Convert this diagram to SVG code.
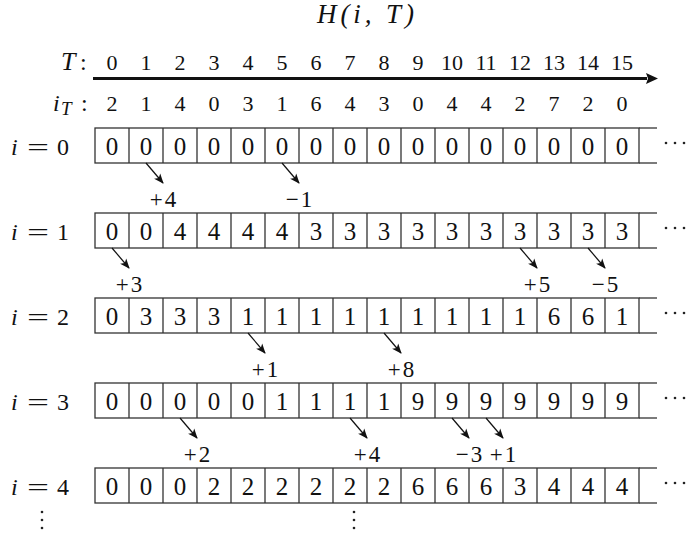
<svg xmlns="http://www.w3.org/2000/svg" width="691" height="537" viewBox="0 0 691 537">
  <style>
    text { font-family: "Liberation Serif", "Times New Roman", serif; fill: #111; }
    .title { font-size: 27px; font-style: italic; }
    .hdr { font-size: 22px; text-anchor: middle; }
    .lab { font-size: 24px; }
    .it { font-style: italic; }
    .cellv { font-size: 25px; text-anchor: middle; }
    .delta { font-size: 23px; text-anchor: middle; letter-spacing: 2px; }
    .cell { fill: #fff; stroke: #333; stroke-width: 1.3; }
    .rail { stroke: #333; stroke-width: 1.3; }
    .conn { stroke: #111; stroke-width: 1.2; fill: none; marker-end: url(#tip); }
    .dot { fill: #222; }
  </style>
  <defs>
    <marker id="tip" markerUnits="userSpaceOnUse" markerWidth="10" markerHeight="10" viewBox="0 0 10 10" refX="9" refY="5" orient="auto">
      <path d="M0,1 L10,5 L0,9 L2.5,5 Z" fill="#111"/>
    </marker>
    <marker id="bigtip" markerUnits="userSpaceOnUse" markerWidth="12" markerHeight="12" viewBox="0 0 12 12" refX="1" refY="6" orient="auto">
      <path d="M0,0.5 L12,6 L0,11.5 L2,6 Z" fill="#111"/>
    </marker>
  </defs>

  <!-- title -->
  <g id="title">
    <text class="title" x="317" y="23" textLength="97" lengthAdjust="spacing">H(i, T)</text>
  </g>

  <!-- time axis and query sequence -->
  <g id="axis">
    <text class="lab" x="61" y="70"><tspan class="it" font-size="26">T</tspan><tspan x="80">:</tspan></text>
    <line x1="93" y1="78.5" x2="647" y2="78.5" stroke="#111" stroke-width="3" marker-end="url(#bigtip)"/>
    <g class="hdr">
      <text x="112" y="70">0</text><text x="146" y="70">1</text><text x="180" y="70">2</text><text x="214" y="70">3</text>
      <text x="248" y="70">4</text><text x="282" y="70">5</text><text x="316" y="70">6</text><text x="350" y="70">7</text>
      <text x="384" y="70">8</text><text x="418" y="70">9</text><text x="452" y="70">10</text><text x="486" y="70">11</text>
      <text x="520" y="70">12</text><text x="554" y="70">13</text><text x="588" y="70">14</text><text x="622" y="70">15</text>
    </g>
    <text class="lab" x="53" y="111"><tspan class="it">i</tspan><tspan class="it" font-size="19" x="61" dy="4">T</tspan><tspan x="81" dy="-4">:</tspan></text>
    <g class="hdr">
      <text x="112" y="111">2</text><text x="146" y="111">1</text><text x="180" y="111">4</text><text x="214" y="111">0</text>
      <text x="248" y="111">3</text><text x="282" y="111">1</text><text x="316" y="111">6</text><text x="350" y="111">4</text>
      <text x="384" y="111">3</text><text x="418" y="111">0</text><text x="452" y="111">4</text><text x="486" y="111">4</text>
      <text x="520" y="111">2</text><text x="554" y="111">7</text><text x="588" y="111">2</text><text x="622" y="111">0</text>
    </g>
  </g>

  <!-- row i = 0 -->
  <g id="row-0">
    <text class="lab it" x="11" y="155">i</text>
    <text class="lab" x="27" y="155" textLength="22" lengthAdjust="spacingAndGlyphs">=</text>
    <text class="lab" x="57" y="155">0</text>
    <rect class="cell" x="95" y="128" width="544" height="35"/>
    <line class="rail" x1="639" y1="128" x2="657" y2="128"/><line class="rail" x1="639" y1="163" x2="657" y2="163"/>
    <path class="rail" d="M129,128V163M163,128V163M197,128V163M231,128V163M265,128V163M299,128V163M333,128V163M367,128V163M401,128V163M435,128V163M469,128V163M503,128V163M537,128V163M571,128V163M605,128V163"/>
    <g class="cellv">
      <text x="112" y="154.5">0</text><text x="146" y="154.5">0</text><text x="180" y="154.5">0</text><text x="214" y="154.5">0</text>
      <text x="248" y="154.5">0</text><text x="282" y="154.5">0</text><text x="316" y="154.5">0</text><text x="350" y="154.5">0</text>
      <text x="384" y="154.5">0</text><text x="418" y="154.5">0</text><text x="452" y="154.5">0</text><text x="486" y="154.5">0</text>
      <text x="520" y="154.5">0</text><text x="554" y="154.5">0</text><text x="588" y="154.5">0</text><text x="622" y="154.5">0</text>
    </g>
    <circle class="dot" cx="666" cy="143" r="1.3"/><circle class="dot" cx="675" cy="143" r="1.3"/><circle class="dot" cx="684" cy="143" r="1.3"/>
  </g>

  <!-- row i = 1 -->
  <g id="row-1">
    <text class="lab it" x="11" y="240">i</text>
    <text class="lab" x="27" y="240" textLength="22" lengthAdjust="spacingAndGlyphs">=</text>
    <text class="lab" x="57" y="240">1</text>
    <rect class="cell" x="95" y="213" width="544" height="35"/>
    <line class="rail" x1="639" y1="213" x2="657" y2="213"/><line class="rail" x1="639" y1="248" x2="657" y2="248"/>
    <path class="rail" d="M129,213V248M163,213V248M197,213V248M231,213V248M265,213V248M299,213V248M333,213V248M367,213V248M401,213V248M435,213V248M469,213V248M503,213V248M537,213V248M571,213V248M605,213V248"/>
    <g class="cellv">
      <text x="112" y="239.5">0</text><text x="146" y="239.5">0</text><text x="180" y="239.5">4</text><text x="214" y="239.5">4</text>
      <text x="248" y="239.5">4</text><text x="282" y="239.5">4</text><text x="316" y="239.5">3</text><text x="350" y="239.5">3</text>
      <text x="384" y="239.5">3</text><text x="418" y="239.5">3</text><text x="452" y="239.5">3</text><text x="486" y="239.5">3</text>
      <text x="520" y="239.5">3</text><text x="554" y="239.5">3</text><text x="588" y="239.5">3</text><text x="622" y="239.5">3</text>
    </g>
    <circle class="dot" cx="666" cy="228" r="1.3"/><circle class="dot" cx="675" cy="228" r="1.3"/><circle class="dot" cx="684" cy="228" r="1.3"/>
  </g>

  <!-- row i = 2 -->
  <g id="row-2">
    <text class="lab it" x="11" y="325">i</text>
    <text class="lab" x="27" y="325" textLength="22" lengthAdjust="spacingAndGlyphs">=</text>
    <text class="lab" x="57" y="325">2</text>
    <rect class="cell" x="95" y="298" width="544" height="35"/>
    <line class="rail" x1="639" y1="298" x2="657" y2="298"/><line class="rail" x1="639" y1="333" x2="657" y2="333"/>
    <path class="rail" d="M129,298V333M163,298V333M197,298V333M231,298V333M265,298V333M299,298V333M333,298V333M367,298V333M401,298V333M435,298V333M469,298V333M503,298V333M537,298V333M571,298V333M605,298V333"/>
    <g class="cellv">
      <text x="112" y="324.5">0</text><text x="146" y="324.5">3</text><text x="180" y="324.5">3</text><text x="214" y="324.5">3</text>
      <text x="248" y="324.5">1</text><text x="282" y="324.5">1</text><text x="316" y="324.5">1</text><text x="350" y="324.5">1</text>
      <text x="384" y="324.5">1</text><text x="418" y="324.5">1</text><text x="452" y="324.5">1</text><text x="486" y="324.5">1</text>
      <text x="520" y="324.5">1</text><text x="554" y="324.5">6</text><text x="588" y="324.5">6</text><text x="622" y="324.5">1</text>
    </g>
    <circle class="dot" cx="666" cy="313" r="1.3"/><circle class="dot" cx="675" cy="313" r="1.3"/><circle class="dot" cx="684" cy="313" r="1.3"/>
  </g>

  <!-- row i = 3 -->
  <g id="row-3">
    <text class="lab it" x="11" y="410">i</text>
    <text class="lab" x="27" y="410" textLength="22" lengthAdjust="spacingAndGlyphs">=</text>
    <text class="lab" x="57" y="410">3</text>
    <rect class="cell" x="95" y="383" width="544" height="35"/>
    <line class="rail" x1="639" y1="383" x2="657" y2="383"/><line class="rail" x1="639" y1="418" x2="657" y2="418"/>
    <path class="rail" d="M129,383V418M163,383V418M197,383V418M231,383V418M265,383V418M299,383V418M333,383V418M367,383V418M401,383V418M435,383V418M469,383V418M503,383V418M537,383V418M571,383V418M605,383V418"/>
    <g class="cellv">
      <text x="112" y="409.5">0</text><text x="146" y="409.5">0</text><text x="180" y="409.5">0</text><text x="214" y="409.5">0</text>
      <text x="248" y="409.5">0</text><text x="282" y="409.5">1</text><text x="316" y="409.5">1</text><text x="350" y="409.5">1</text>
      <text x="384" y="409.5">1</text><text x="418" y="409.5">9</text><text x="452" y="409.5">9</text><text x="486" y="409.5">9</text>
      <text x="520" y="409.5">9</text><text x="554" y="409.5">9</text><text x="588" y="409.5">9</text><text x="622" y="409.5">9</text>
    </g>
    <circle class="dot" cx="666" cy="398" r="1.3"/><circle class="dot" cx="675" cy="398" r="1.3"/><circle class="dot" cx="684" cy="398" r="1.3"/>
  </g>

  <!-- row i = 4 -->
  <g id="row-4">
    <text class="lab it" x="11" y="495">i</text>
    <text class="lab" x="27" y="495" textLength="22" lengthAdjust="spacingAndGlyphs">=</text>
    <text class="lab" x="57" y="495">4</text>
    <rect class="cell" x="95" y="468" width="544" height="35"/>
    <line class="rail" x1="639" y1="468" x2="657" y2="468"/><line class="rail" x1="639" y1="503" x2="657" y2="503"/>
    <path class="rail" d="M129,468V503M163,468V503M197,468V503M231,468V503M265,468V503M299,468V503M333,468V503M367,468V503M401,468V503M435,468V503M469,468V503M503,468V503M537,468V503M571,468V503M605,468V503"/>
    <g class="cellv">
      <text x="112" y="494.5">0</text><text x="146" y="494.5">0</text><text x="180" y="494.5">0</text><text x="214" y="494.5">2</text>
      <text x="248" y="494.5">2</text><text x="282" y="494.5">2</text><text x="316" y="494.5">2</text><text x="350" y="494.5">2</text>
      <text x="384" y="494.5">2</text><text x="418" y="494.5">6</text><text x="452" y="494.5">6</text><text x="486" y="494.5">6</text>
      <text x="520" y="494.5">3</text><text x="554" y="494.5">4</text><text x="588" y="494.5">4</text><text x="622" y="494.5">4</text>
    </g>
    <circle class="dot" cx="666" cy="483" r="1.3"/><circle class="dot" cx="675" cy="483" r="1.3"/><circle class="dot" cx="684" cy="483" r="1.3"/>
  </g>

  <!-- vertical continuation dots -->
  <g id="more-rows">
    <circle class="dot" cx="42" cy="512" r="1.3"/><circle class="dot" cx="42" cy="520" r="1.3"/><circle class="dot" cx="42" cy="528" r="1.3"/>
    <circle class="dot" cx="354" cy="512" r="1.3"/><circle class="dot" cx="354" cy="520" r="1.3"/><circle class="dot" cx="354" cy="528" r="1.3"/>
  </g>

  <!-- update arrows between consecutive rows, with their increments -->
  <g id="connectors">
    <line class="conn" x1="146" y1="163" x2="163" y2="183"/>
    <line class="conn" x1="282" y1="163" x2="299" y2="183"/>
    <line class="conn" x1="112" y1="248" x2="129" y2="268"/>
    <line class="conn" x1="520" y1="248" x2="537" y2="268"/>
    <line class="conn" x1="588" y1="248" x2="605" y2="268"/>
    <line class="conn" x1="248" y1="333" x2="265" y2="353"/>
    <line class="conn" x1="384" y1="333" x2="401" y2="353"/>
    <line class="conn" x1="180" y1="418" x2="197" y2="438"/>
    <line class="conn" x1="350" y1="418" x2="367" y2="438"/>
    <line class="conn" x1="452" y1="418" x2="469" y2="438"/>
    <line class="conn" x1="486" y1="418" x2="503" y2="438"/>
    <g class="delta">
      <text x="164" y="207">+4</text><text x="300" y="207">−1</text>
      <text x="130" y="292">+3</text><text x="538" y="292">+5</text><text x="606" y="292">−5</text>
      <text x="266" y="377">+1</text><text x="402" y="377">+8</text>
      <text x="198" y="462">+2</text><text x="368" y="462">+4</text><text x="470" y="462">−3</text><text x="504" y="462">+1</text>
    </g>
  </g>
</svg>
